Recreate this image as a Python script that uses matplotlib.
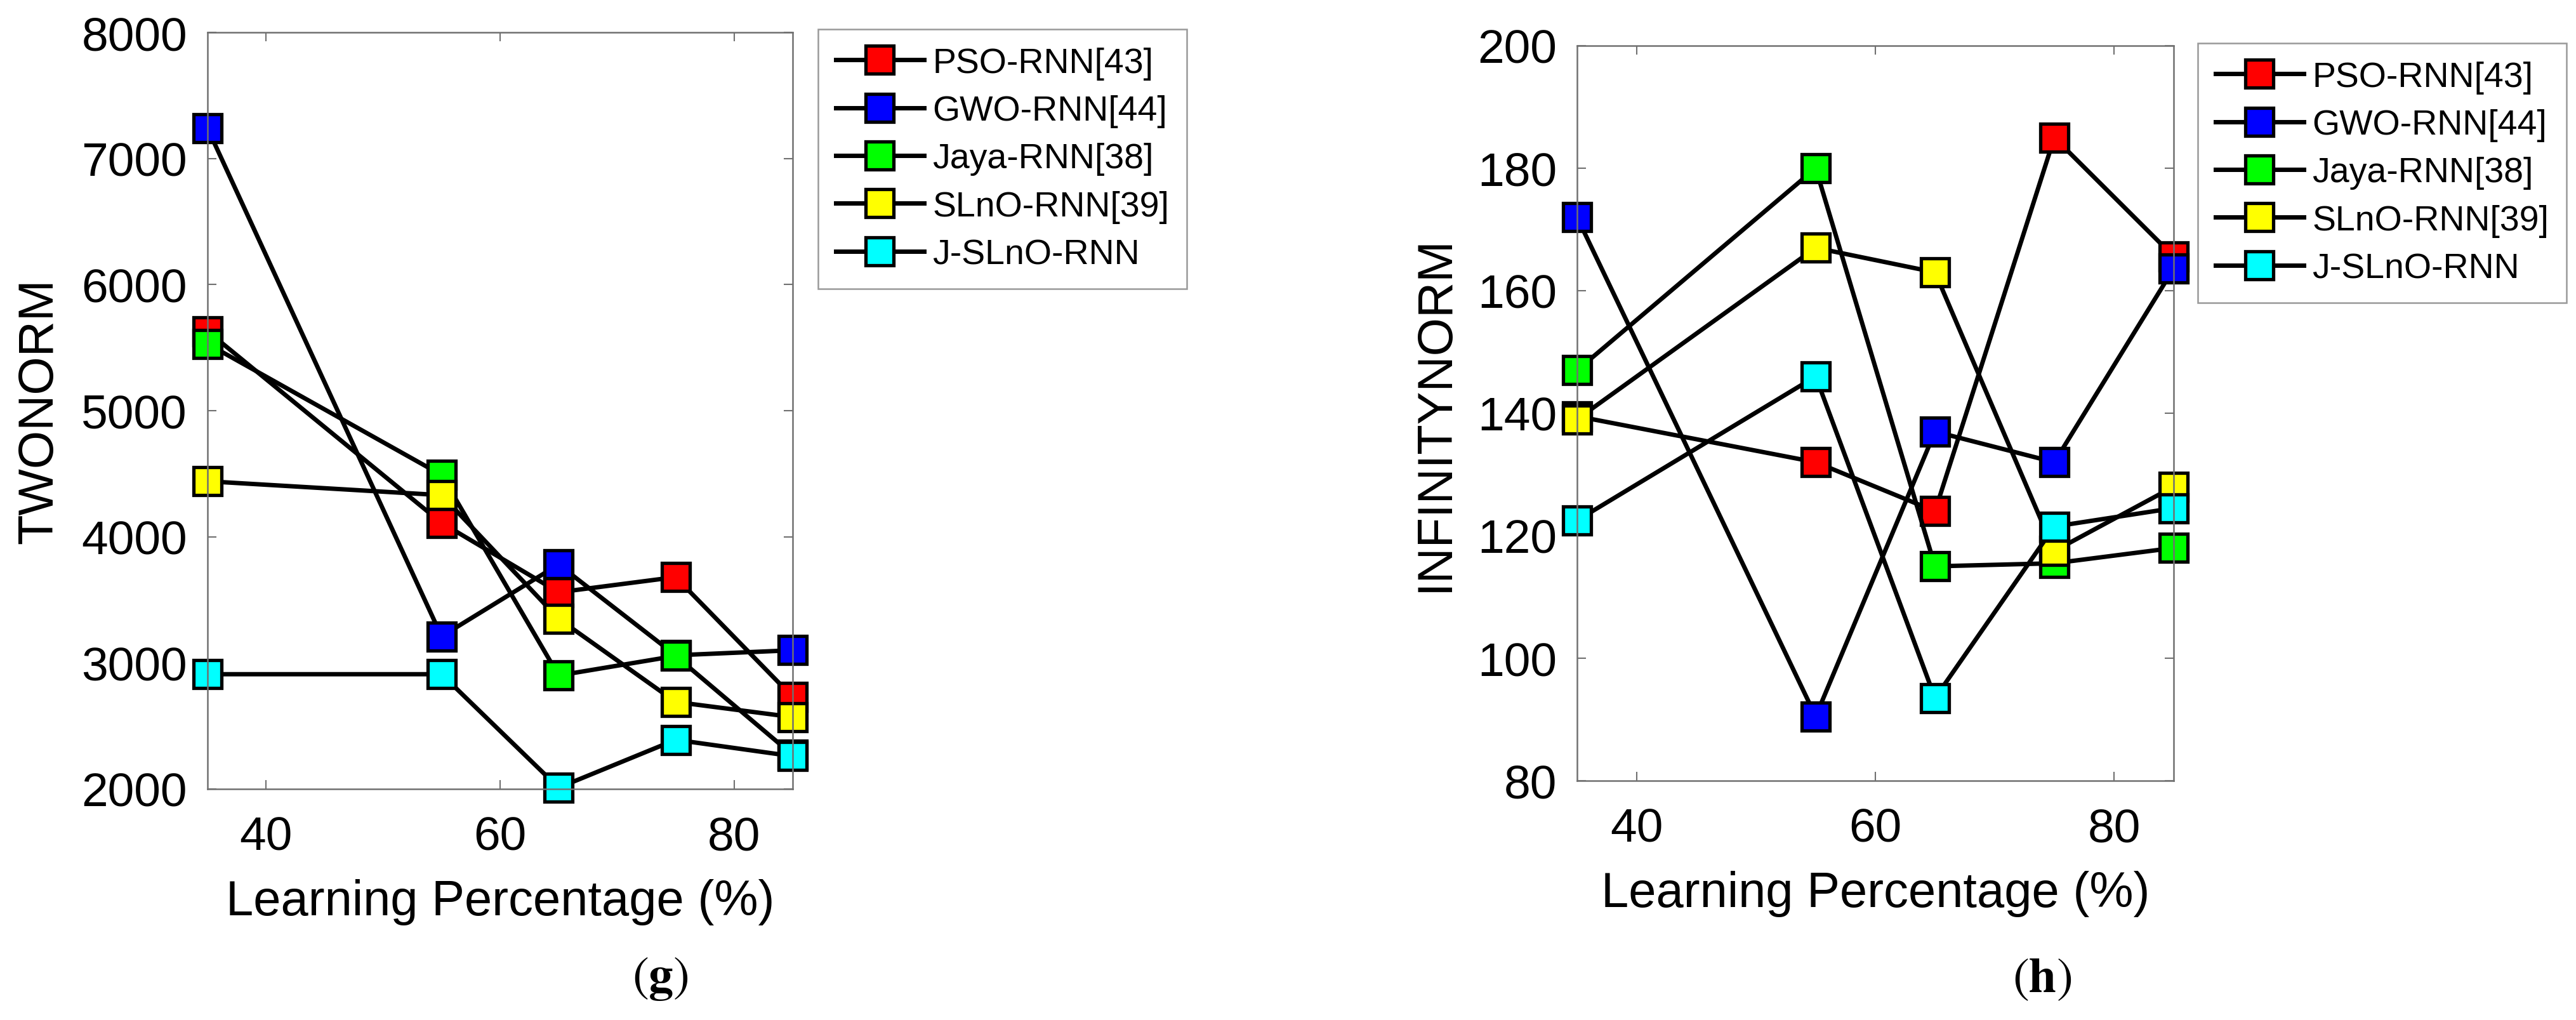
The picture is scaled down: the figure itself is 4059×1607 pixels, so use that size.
import matplotlib
matplotlib.use("Agg")
import matplotlib.pyplot as plt

plt.rcParams['font.family'] = ['Liberation Sans', 'DejaVu Sans']
plt.rcParams['mathtext.fontset'] = 'stix'

# data
learning_pct = [35, 55, 65, 75, 85]
methods = ['PSO-RNN[43]', 'GWO-RNN[44]', 'Jaya-RNN[38]', 'SLnO-RNN[39]', 'J-SLnO-RNN']
colors = ['#ff0000', '#0000ff', '#00ff00', '#ffff00', '#00ffff']

twonorm_pso = [5630, 4110, 3560, 3680, 2730]
twonorm_gwo = [7240, 3210, 3780, 3060, 3100]
twonorm_jaya = [5530, 4490, 2900, 3055, 2270]
twonorm_slno = [4440, 4330, 3350, 2690, 2570]
twonorm_jslno = [2910, 2910, 2010, 2390, 2260]

infnorm_pso = [139.5, 132, 124, 185, 165.6]
infnorm_gwo = [172, 90.5, 137, 132, 163.6]
infnorm_jaya = [147, 180, 115, 115.5, 118]
infnorm_slno = [139, 167, 163, 117.5, 128]
infnorm_jslno = [122.5, 146, 93.5, 121.5, 124.5]

twonorm = [twonorm_pso, twonorm_gwo, twonorm_jaya, twonorm_slno, twonorm_jslno]
infnorm = [infnorm_pso, infnorm_gwo, infnorm_jaya, infnorm_slno, infnorm_jslno]

W, H = 4059, 1608
fig = plt.figure(figsize=(W / 100, H / 100), dpi=100)

ax1 = fig.add_axes([327 / W, 1 - 1244 / H, 922 / W, 1192 / H])
ax2 = fig.add_axes([2485 / W, 1 - 1231 / H, 940 / W, 1158 / H])

spine_col = '#707070'


def draw(ax, series, ylim, yticks, ylabel, leg_anchor):
    for vals, c, name in zip(series, colors, methods):
        ax.plot(learning_pct, vals, color='black', lw=5, marker='s', ms=31,
                mfc=c, mec='black', mew=3.8, label=name, clip_on=False)
    ax.set_xlim(35, 85)
    ax.set_ylim(*ylim)
    ax.set_xticks([40, 60, 80])
    ax.set_yticks(yticks)
    ax.tick_params(direction='in', top=True, right=True, length=10, width=1.5,
                   color=spine_col, labelsize=54, labelcolor='black')
    ax.tick_params(axis='x', pad=30)
    ax.tick_params(axis='y', pad=23)
    for s in ax.spines.values():
        s.set_color(spine_col)
        s.set_linewidth(1.8)
    ax.set_xlabel('Learning Percentage (%)', fontsize=56, labelpad=22)
    ax.set_ylabel(ylabel, fontsize=56, labelpad=22)
    leg = ax.legend(loc='upper left', bbox_to_anchor=leg_anchor,
                    bbox_transform=fig.transFigure, fontsize=40, frameon=True,
                    fancybox=False, edgecolor='#808080', borderaxespad=0,
                    handlelength=2.5, handletextpad=0.25, labelspacing=0.42,
                    borderpad=0.5)
    leg.get_frame().set_linewidth(1.8)


draw(ax1, twonorm, (2000, 8000), range(2000, 8001, 1000), 'TWONORM',
     (1289 / W, 1 - 47 / H))
draw(ax2, infnorm, (80, 200), range(80, 201, 20), 'INFINITYNORM',
     (3463 / W, 1 - 69 / H))

fig.text(1040 / W, 1 - 1543 / H, r'$(\mathbf{g})$', fontsize=56, ha='center', va='center')
fig.text(3218 / W, 1 - 1543 / H, r'$(\mathbf{h})$', fontsize=56, ha='center', va='center')

fig.savefig('out.png', dpi=100)
